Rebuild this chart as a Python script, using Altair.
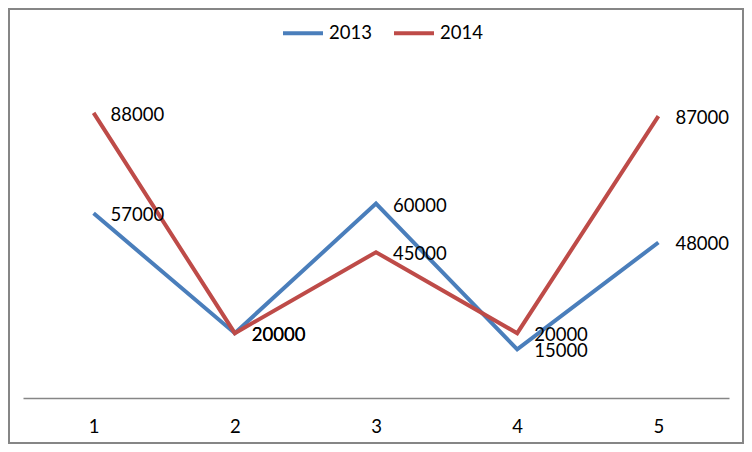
import altair as alt
import pandas as pd

categories = ["1", "2", "3", "4", "5"]
series_2013 = [57000, 20000, 60000, 15000, 48000]
series_2014 = [88000, 20000, 45000, 20000, 87000]
series_names = ["2013", "2014"]
colors = ["#4A7EBB", "#BE4B48"]

rows = []
for name, vals in zip(series_names, [series_2013, series_2014]):
    for c, v in zip(categories, vals):
        rows.append({"cat": c, "value": v, "series": name})
df = pd.DataFrame(rows)

FONT = "Lato"
FS = 18.5

x = alt.X("cat:N", sort=categories, title=None,
          scale=alt.Scale(type="point", padding=0.5),
          axis=alt.Axis(labelAngle=0, ticks=False, domainColor="#868686", domainWidth=1.5,
                        labelFont=FONT, labelFontSize=FS, labelColor="#000000", labelPadding=19))
y = alt.Y("value:Q", scale=alt.Scale(domain=[0, 100000], nice=False), axis=None)
color = alt.Color("series:N", scale=alt.Scale(domain=series_names, range=colors),
                  legend=alt.Legend(title=None, orient="none", direction="horizontal",
                                    legendX=258, legendY=-63,
                                    symbolType="stroke", symbolSize=1600, symbolStrokeWidth=4,
                                    labelFont=FONT, labelFontSize=FS, labelColor="#000000",
                                    labelOffset=4, columnPadding=14))

base = alt.Chart(df)
lines = base.mark_line(strokeWidth=4, strokeJoin="miter").encode(x=x, y=y, color=color)
labels = base.mark_text(align="left", baseline="middle", dx=17, dy=2, font=FONT, fontSize=FS,
                        color="#000000").encode(x=x, y=y, text=alt.Text("value:Q", format="d"))

frame_df = pd.DataFrame({"k": [0]})
frame = alt.Chart(frame_df).mark_rect(fill=None, stroke="#868686", strokeWidth=2).encode(
    x=alt.value(-14), x2=alt.value(720), y=alt.value(-65), y2=alt.value(369))

chart = alt.layer(frame, lines, labels).properties(
    width=706, height=324,
    padding={"left": 15, "top": 66, "right": 15, "bottom": 46},
    autosize=alt.AutoSizeParams(type="none"),
).configure_view(stroke=None)

chart.save("out.html", embed_options={"renderer": "svg", "actions": False})
